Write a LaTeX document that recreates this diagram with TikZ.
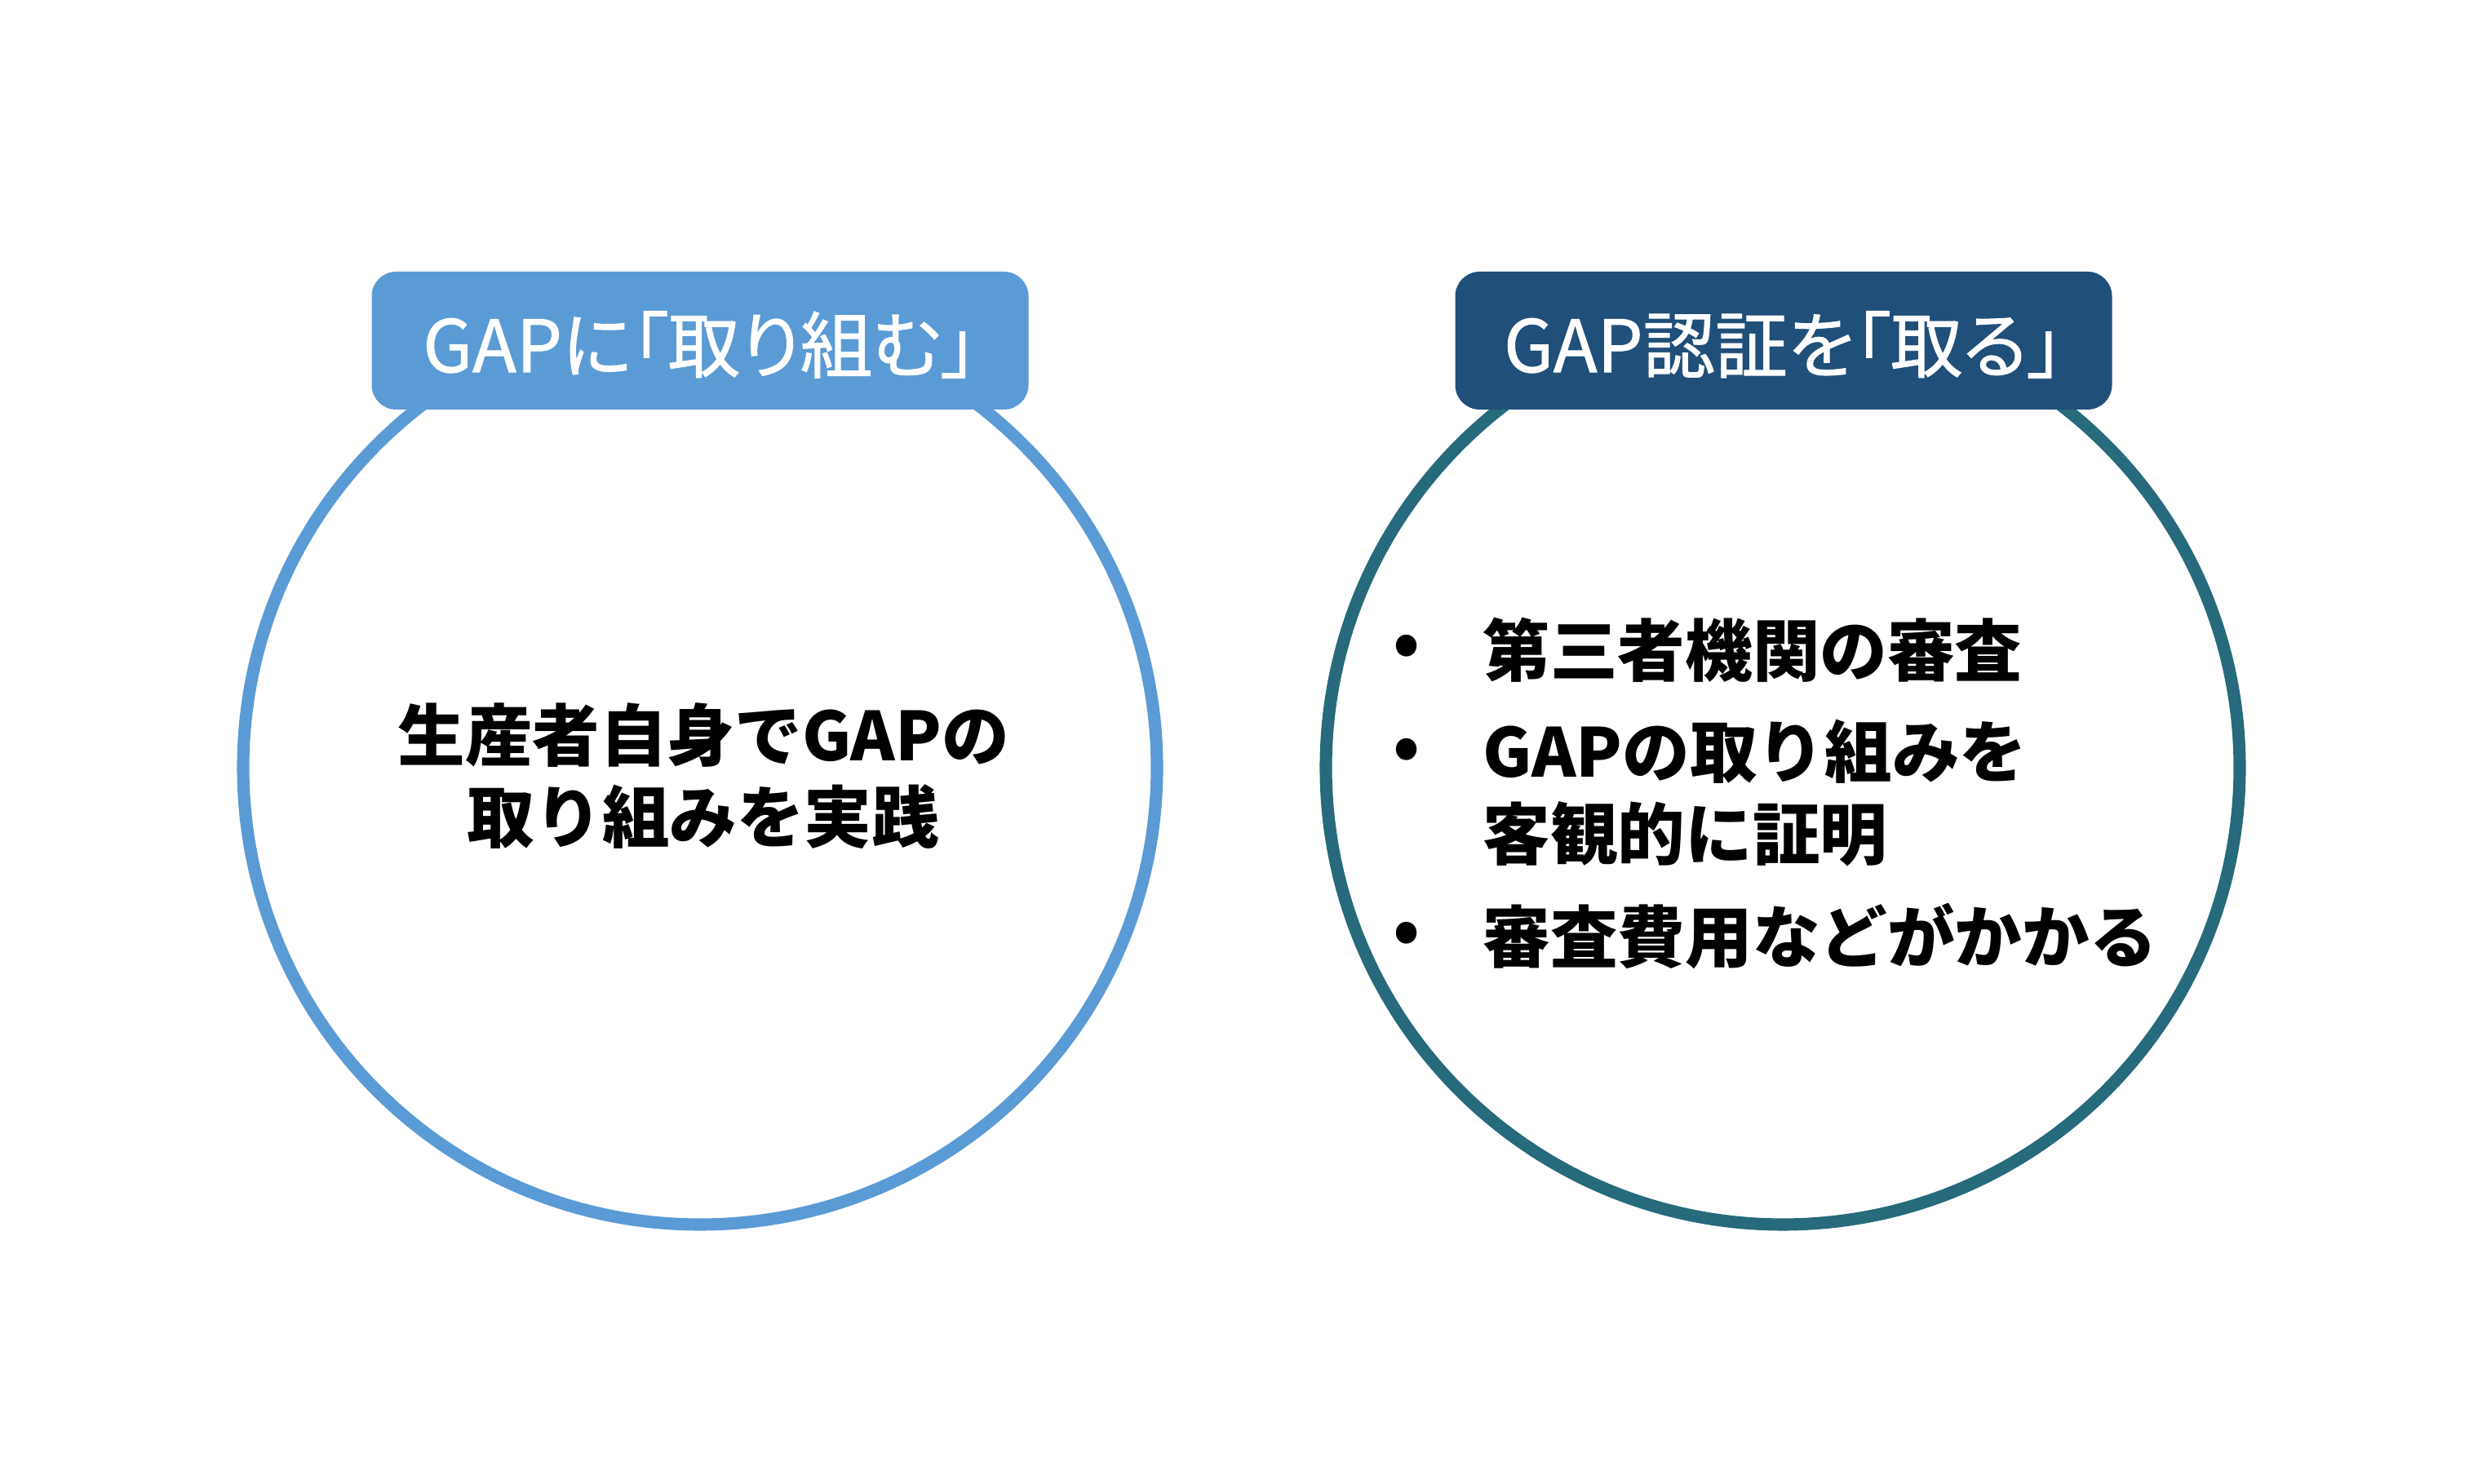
\documentclass[tikz,border=0pt]{standalone}
\usepackage{fontspec}
\setmainfont{Noto Sans CJK JP}
\newfontfamily\tagfont[RawFeature=+palt, FakeBold=1]{Noto Sans CJK JP}
\usetikzlibrary{positioning,calc}

\definecolor{gapblue}{RGB}{91,155,213}
\definecolor{gapnavy}{RGB}{32,79,121}
\definecolor{gapteal}{RGB}{38,106,124}

\tikzset{
    ring/.style={circle, draw, line width=4.3pt, minimum size=11.2cm, inner sep=0pt},
    tag/.style={rounded corners=0.3cm, minimum width=8.05cm, minimum height=1.69cm, inner sep=0pt},
    tagtext/.style={text=white, inner sep=0pt, yshift=-0.05cm, font=\tagfont\fontsize{25.2}{29}\selectfont},
    body/.style={inner sep=0pt, font=\fontsize{23.5}{28.5}\selectfont\bfseries}
}

\begin{document}
\begin{tikzpicture}
    \useasboundingbox (0,0) rectangle (30.53,18.19);

    % two rings
    \node[ring, draw=gapblue] (doing) at (8.58,8.78) {};
    \node[ring, draw=gapteal] (cert) at (21.85,8.78) {};

    % tags on top
    \node[tag, fill=gapblue, label={[tagtext, name=doingtitle]center:GAPに「取り組む」}] (doingtag) at (8.58,14.015) {};
    \node[tag, fill=gapnavy, label={[tagtext, name=certtitle]center:GAP認証を「取る」}] (certtag) at (21.86,14.015) {};

    % left text
    \node[body, align=center] (practice) at (8.62,8.68) {生産者自身でGAPの\\取り組みを実践};

    % right list
    \foreach \i/\y in {1/10.22, 2/8.95, 3/6.70} {
        \node[body] (dot\i) at (17.24,\y) {•};
    }
    \node[body, anchor=west] (item1) at (18.17,10.22) {第三者機関の審査};
    \node[body, anchor=west, align=left] (item2) at (18.17,8.47) {GAPの取り組みを\\客観的に証明};
    \node[body, anchor=west] (item3) at (18.17,6.72) {審査費用などがかかる};
\end{tikzpicture}
\end{document}
